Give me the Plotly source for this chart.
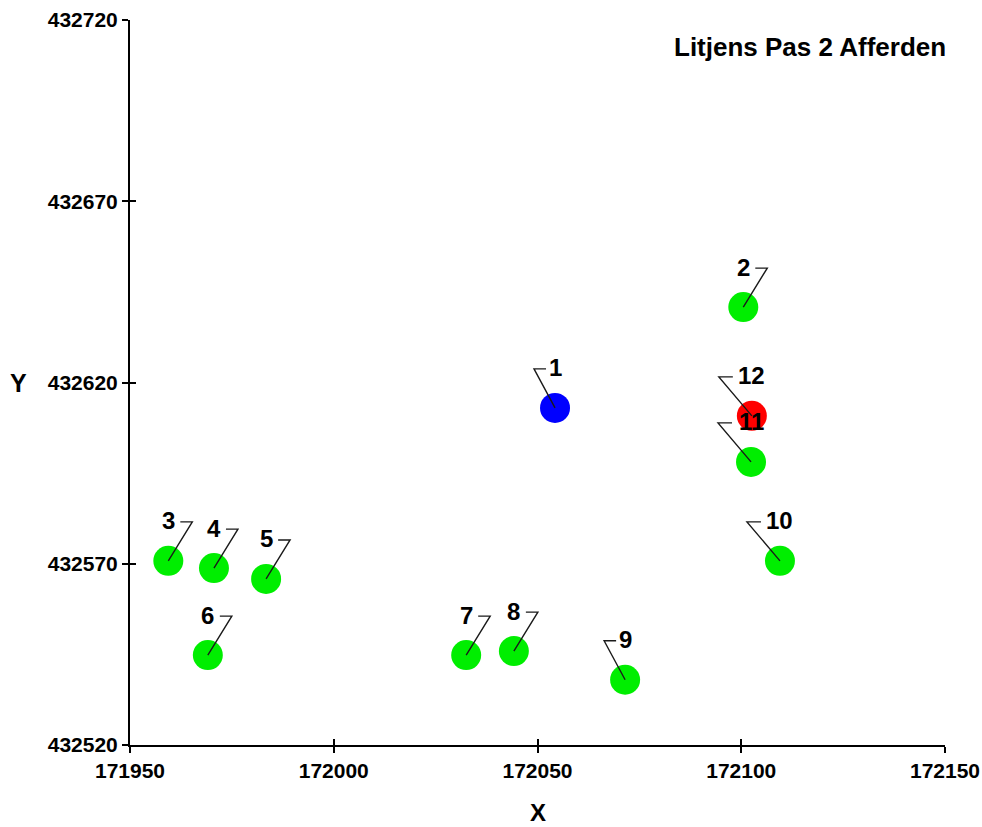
import plotly.graph_objects as go

# ---- data ----
point_labels = ["1", "2", "3", "4", "5", "6", "7", "8", "9", "10", "11", "12"]
x_coords = [172054.3, 172100.5, 171959.4, 171970.6, 171983.4, 171969.1,
            172032.5, 172044.2, 172071.5, 172109.5, 172102.4, 172102.6]
y_coords = [432613.0, 432640.8, 432570.8, 432568.8, 432565.8, 432544.8,
            432544.8, 432545.9, 432538.0, 432570.8, 432598.1, 432610.8]
point_colors = ["#0000FF", "#00EE00", "#00EE00", "#00EE00", "#00EE00", "#00EE00",
                "#00EE00", "#00EE00", "#00EE00", "#00EE00", "#00EE00", "#FF0000"]
# leader style: "R" = leader goes up-right (shape like 7), "L" = goes up-left
leader_side = ["L", "R", "R", "R", "R", "R", "R", "R", "L", "L", "L", "L"]

x_ticks = [171950, 172000, 172050, 172100, 172150]
y_ticks = [432520, 432570, 432620, 432670, 432720]
title_text = "Litjens Pas 2 Afferden"

FONT = "Liberation Sans, Arial, sans-serif"

fig = go.Figure()
fig.add_trace(go.Scatter(
    x=x_coords, y=y_coords, mode="markers",
    marker=dict(size=30, color=point_colors, line=dict(width=0)),
    hoverinfo="skip", showlegend=False))
# empty trace to activate overlay axes (inside ticks -> crossing tick marks)
fig.add_trace(go.Scatter(x=[], y=[], xaxis="x2", yaxis="y2", showlegend=False))

shapes = []
annotations = []
for lab, xv, yv, side in zip(point_labels, x_coords, y_coords, leader_side):
    two = len(lab) > 1
    if side == "R":
        path = "M0,0 L24,39 L12,39"
    else:
        if two:
            path = "M0,0 L-33,39 L-19,39"
        else:
            path = "M0,0 L-21,39 L-9,39"
    shapes.append(dict(type="path", xref="x", yref="y",
                       xsizemode="pixel", ysizemode="pixel",
                       xanchor=xv, yanchor=yv, path=path,
                       line=dict(color="#1a1a1a", width=1.4), layer="above"))
    annotations.append(dict(x=xv, y=yv, xref="x", yref="y", text="<b>%s</b>" % lab,
                            showarrow=False, xanchor="center", yanchor="middle",
                            xshift=0, yshift=40,
                            font=dict(family=FONT, size=24, color="black")))

annotations.append(dict(x=0.834, y=0.963, xref="paper", yref="paper",
                        text="<b>%s</b>" % title_text, showarrow=False,
                        xanchor="center", yanchor="middle",
                        font=dict(family=FONT, size=26, color="black")))
annotations.append(dict(x=0, y=0.5, xref="paper", yref="paper", text="<b>Y</b>",
                        showarrow=False, xanchor="center", yanchor="middle",
                        xshift=-112, font=dict(family=FONT, size=25, color="black")))
annotations.append(dict(x=0.5, y=0, xref="paper", yref="paper", text="<b>X</b>",
                        showarrow=False, xanchor="center", yanchor="middle",
                        yshift=-67, font=dict(family=FONT, size=24, color="black")))

axis_common = dict(showgrid=False, zeroline=False, showline=True,
                   linecolor="black", linewidth=2, ticks="outside", ticklen=6,
                   tickwidth=1.5, tickcolor="black", automargin=False,
                   ticklabeloverflow="allow",
                   tickfont=dict(family=FONT, size=21, color="black"))

fig.update_layout(
    template="none",
    width=982, height=827,
    margin=dict(l=130, r=37, t=20, b=82),
    paper_bgcolor="white", plot_bgcolor="white",
    showlegend=False,
    xaxis=dict(range=[171950, 172150], tickvals=x_ticks,
               ticktext=["<b>%d</b>" % v for v in x_ticks], **axis_common),
    yaxis=dict(range=[432520, 432720], tickvals=y_ticks,
               ticktext=["<b>%d</b>" % v for v in y_ticks], **axis_common),
    xaxis2=dict(range=[171950, 172150], tickvals=x_ticks, overlaying="x",
                anchor="y", side="bottom", showticklabels=False, showgrid=False,
                zeroline=False, showline=False, ticks="inside", ticklen=6,
                tickwidth=1.5, tickcolor="black", automargin=False),
    yaxis2=dict(range=[432520, 432720], tickvals=y_ticks, overlaying="y",
                anchor="x", side="left", showticklabels=False, showgrid=False,
                zeroline=False, showline=False, ticks="inside", ticklen=6,
                tickwidth=1.5, tickcolor="black", automargin=False),
    shapes=shapes, annotations=annotations,
)

fig.write_html("out.html",
               config={"displayModeBar": False},
               post_script="document.body.style.margin='0';"
                           "document.body.style.overflow='hidden';")
